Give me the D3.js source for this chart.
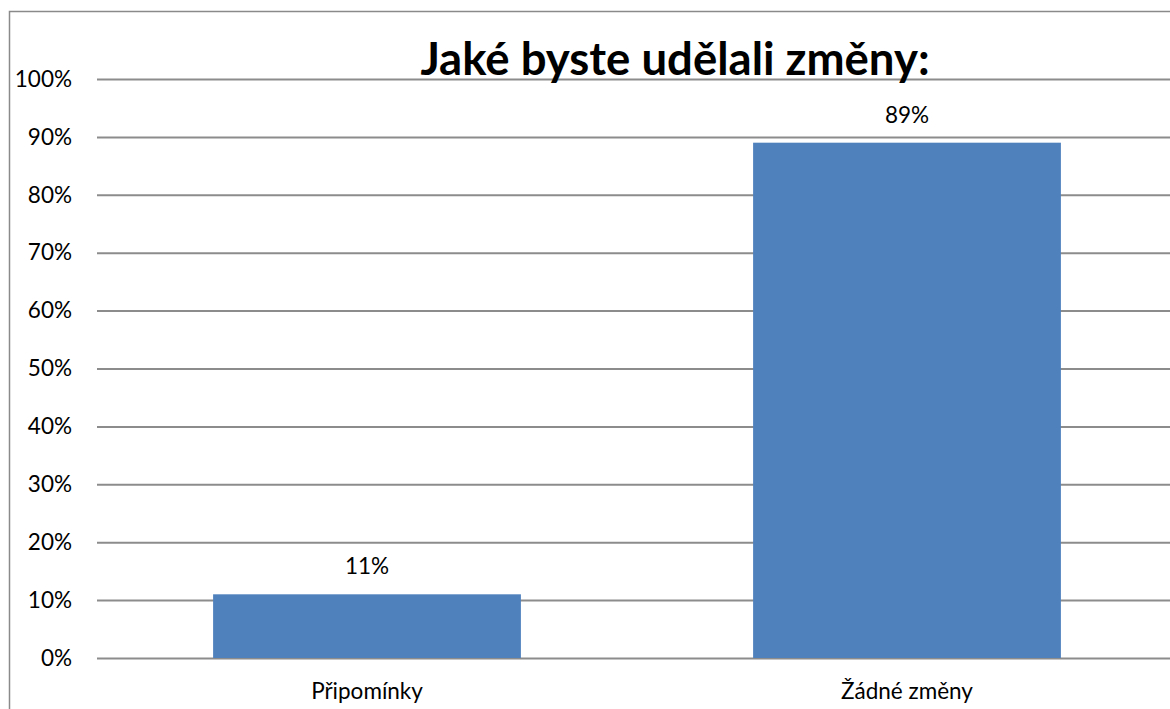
<!DOCTYPE html>
<html>
<head>
<meta charset="utf-8">
<script src="https://cdn.jsdelivr.net/npm/d3@7"></script>
<style>
  html, body { margin: 0; padding: 0; background: #fff; }
  svg { display: block; }
</style>
</head>
<body>
<svg id="chart" width="1170" height="709"></svg>
<script>
// Survey answers and their shares
const categories = ["Připomínky", "Žádné změny"];
const shares = [0.11, 0.89];
const tickValues = [0, 0.1, 0.2, 0.3, 0.4, 0.5, 0.6, 0.7, 0.8, 0.9, 1.0];
const chartTitle = "Jaké byste udělali změny:";

const svg = d3.select("#chart");
const font = "Lato, 'Open Sans', sans-serif";
const labelSize = "22.5px";

// Outer chart frame
svg.append("rect")
  .attr("x", 9.5).attr("y", 11.5)
  .attr("width", 1200).attr("height", 800)
  .attr("fill", "#fff")
  .attr("stroke", "#8a8a8a").attr("stroke-width", 1.5);

const plot = { left: 97, right: 1177, top: 79, bottom: 658 };

const x = d3.scaleBand()
  .domain(categories)
  .range([plot.left, plot.right])
  .paddingInner(0.43)
  .paddingOuter(0.215);

const y = d3.scaleLinear().domain([0, 1]).range([plot.bottom, plot.top]);

// Horizontal gridlines with percentage labels
const yAxis = d3.axisLeft(y)
  .tickValues(tickValues)
  .tickFormat(d3.format(".0%"))
  .tickSize(-(plot.right - plot.left))
  .tickPadding(25);

const gy = svg.append("g")
  .attr("transform", `translate(${plot.left},0)`)
  .call(yAxis);
gy.select(".domain").remove();
gy.selectAll(".tick line").attr("stroke", "#8c8c8c").attr("stroke-width", 2);
gy.selectAll(".tick text")
  .attr("fill", "#000")
  .style("font-family", font)
  .style("font-size", labelSize);

// Bars
svg.append("g").selectAll("rect")
  .data(categories)
  .join("rect")
  .attr("x", d => x(d))
  .attr("width", x.bandwidth())
  .attr("y", (d, i) => y(shares[i]))
  .attr("height", (d, i) => y(0) - y(shares[i]))
  .attr("fill", "#4f81bd");

// Value labels above bars
svg.append("g").selectAll("text")
  .data(categories)
  .join("text")
  .attr("x", d => x(d) + x.bandwidth() / 2)
  .attr("y", (d, i) => y(shares[i]) - 20)
  .attr("text-anchor", "middle")
  .style("font-family", font)
  .style("font-size", labelSize)
  .text((d, i) => d3.format(".0%")(shares[i]));

// Category labels
svg.append("g").selectAll("text")
  .data(categories)
  .join("text")
  .attr("x", d => x(d) + x.bandwidth() / 2)
  .attr("y", 699)
  .attr("text-anchor", "middle")
  .style("font-family", font)
  .style("font-size", labelSize)
  .text(d => d);

// Title
svg.append("text")
  .attr("x", 675)
  .attr("y", 75)
  .attr("text-anchor", "middle")
  .style("font-family", font)
  .style("font-weight", "bold")
  .style("font-size", "45.5px")
  .text(chartTitle);
</script>
</body>
</html>
